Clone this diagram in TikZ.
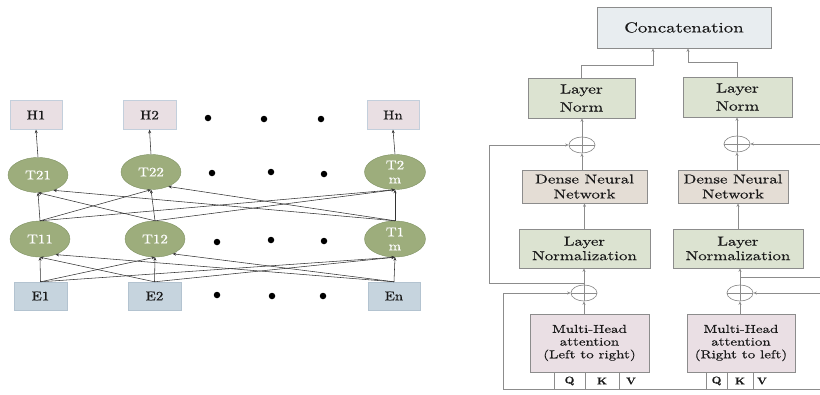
\documentclass[tikz,border=0pt]{standalone}
\usepackage{fontspec}
\newfontfamily\lmv{lmroman10-regular}[Extension=.otf,BoldFont=lmroman10-bold,FakeStretch=1.15,FakeBold=0.4]
\newfontfamily\lmw{lmroman10-regular}[Extension=.otf,BoldFont=lmroman10-bold,FakeStretch=1.3,FakeBold=0.4]
\usetikzlibrary{arrows.meta,shapes.geometric,calc}
\definecolor{hpink}{HTML}{E9DFE3}
\definecolor{hedge}{HTML}{C3CFDC}
\definecolor{eblue}{HTML}{C6D4DE}
\definecolor{eedge}{HTML}{B3C3D0}
\definecolor{tgreen}{HTML}{9DAD7C}
\definecolor{tedge}{HTML}{7F9263}
\definecolor{lngreen}{HTML}{DCE3D1}
\definecolor{dbeige}{HTML}{E4DDD5}
\definecolor{mpink}{HTML}{EADFE4}
\definecolor{cgray}{HTML}{E8EDF0}
\definecolor{rgray}{HTML}{8C8C8C}
\begin{document}
\begin{tikzpicture}[x=1pt,y=-1pt,
  lfont/.style={font=\lmv\fontsize{13}{15}\selectfont},
  larr/.style={draw=black!80,line width=0.55pt,-{Stealth[length=3.5pt,width=3pt]}},
  rarr/.style={draw=rgray,line width=0.65pt,-{Stealth[length=3.5pt,width=3pt]}},
  rline/.style={draw=rgray,line width=0.65pt},
  hbox/.style={draw=hedge,fill=hpink,minimum width=52pt,minimum height=29pt,inner sep=0pt,lfont,text=black!90},
  ebox/.style={draw=eedge,fill=eblue,minimum width=53pt,minimum height=28pt,inner sep=0pt,lfont,text=black!90},
  tell/.style={ellipse,draw=tedge,fill=tgreen,minimum width=60pt,minimum height=35pt,inner sep=0pt,text=white,align=center,lfont},
  bdot/.style={circle,fill=black,minimum size=6.5pt,inner sep=0pt},
  rbox/.style={draw=rgray,line width=0.65pt,inner sep=0pt,align=center,text=black!90},
  oplus/.style={ellipse,draw=rgray,line width=0.65pt,minimum width=26pt,minimum height=16pt,inner sep=0pt}
]
\useasboundingbox (0,0) rectangle (820,394);

% ---------------- left diagram ----------------
\node[hbox] (H1) at (36,115) {H1};
\node[hbox,minimum width=53pt] (H2) at (149.5,115) {H2};
\node[hbox] (Hn) at (393,115) {Hn};

\node[tell] (T21) at (38,175) {T21};
\node[tell] (T22) at (151,172) {T22};
\node[tell,minimum width=61pt,font=\lmv\fontsize{13}{14}\selectfont] (T2m) at (395,172) {T2\\m};

\node[tell,minimum height=36pt] (T11) at (40,239) {T11};
\node[tell,minimum height=36pt] (T12) at (155,239) {T12};
\node[tell,minimum height=36pt,minimum width=61pt,font=\lmv\fontsize{13}{14}\selectfont] (T1m) at (395,239) {T1\\m};

\node[ebox] (E1) at (40.5,296) {E1};
\node[ebox] (E2) at (154.5,296) {E2};
\node[ebox,minimum width=52pt] (En) at (394,296) {En};

\foreach \x/\y [count=\i] in {208/118,264/119,321/119,
                              212/173,271/172,324/174,
                              217/242,271/240,324/241,
                              217/295,272/296,323/296}
  \node[bdot] (d\i) at (\x,\y) {};

% bottom layer connections
\draw[larr] (E1.north) -- (T11.south);
\draw[larr] (E1.north) -- (T12.south);
\draw[larr] (E1.north) -- (T1m.south);
\draw[larr] (E2.north) -- (T11.south);
\draw[larr] (E2.north) -- (T12.south);
\draw[larr] (E2.north) -- (T1m.south);
\draw[larr] (En.north) -- (T11.-45);
\draw[larr] (En.north) -- (T12.-40);
\draw[larr] (En.north) -- (T1m.south);
% top layer connections
\draw[larr] (T11.north) -- (T21.south);
\draw[larr] (T11.north) -- (T22.south);
\draw[larr] (T11.north) -- (T2m.south);
\draw[larr] (T12.north) -- (T21.south);
\draw[larr] (T12.north) -- (T22.south);
\draw[larr] (T12.north) -- (T2m.south);
\draw[larr] (T1m.north) -- (T21.-45);
\draw[larr] (T1m.north) -- (T22.-40);
\draw[larr] (T1m.north) -- (T2m.south);
% outputs
\draw[larr] (T21.north) -- (H1.south);
\draw[larr] (T22.north) -- (H2.south);
\draw[larr] (T2m.north) -- (Hn.south);

% ---------------- right diagram ----------------
\node[rbox,fill=cgray,minimum width=174pt,minimum height=41pt,font=\lmw\fontsize{14.5}{16}\selectfont] (concat) at (684,27.5) {Concatenation};

\node[rbox,fill=lngreen,minimum width=107pt,minimum height=40pt,font=\lmw\fontsize{13.5}{18}\selectfont] (lnA) at (581.5,98) {Layer\\Norm};
\node[rbox,fill=lngreen,minimum width=109pt,minimum height=40pt,font=\lmw\fontsize{13.5}{18}\selectfont] (lnB) at (737.5,97) {Layer\\Norm};

\node[oplus] (cA) at (582,145) {};
\node[oplus] (cB) at (737,144) {};

\node[rbox,fill=dbeige,minimum width=125pt,minimum height=33pt,font=\lmw\fontsize{13}{15}\selectfont] (dA) at (584.5,186.5) {Dense Neural\\Network};
\node[rbox,fill=dbeige,minimum width=110pt,minimum height=33pt,font=\lmw\fontsize{13}{15}\selectfont] (dB) at (733,186.5) {Dense Neural\\Network};

\node[rbox,fill=lngreen,minimum width=131pt,minimum height=39pt,font=\lmw\fontsize{13}{14.5}\selectfont] (nA) at (584.5,248.5) {Layer\\Normalization};
\node[rbox,fill=lngreen,minimum width=130pt,minimum height=39pt,font=\lmw\fontsize{13}{14.5}\selectfont] (nB) at (738,248.5) {Layer\\Normalization};

\node[oplus] (pA) at (584,293) {};
\node[oplus] (pB) at (740,293) {};

\node[rbox,fill=mpink,minimum width=119pt,minimum height=58pt,font=\lmw\fontsize{11.5}{12.7}\selectfont] (mA) at (589.5,343) {Multi-Head\\attention\\(Left to right)};
\node[rbox,fill=mpink,minimum width=108pt,minimum height=58pt,font=\lmw\fontsize{11.5}{12.7}\selectfont] (mB) at (741,343) {Multi-Head\\attention\\(Right to left)};

% Q K V cells
\foreach \x/\n in {554/qa1,585/qa2,619/qa3,706/qb1,727/qb2,753/qb3}
  \coordinate (\n) at (\x,372);
\foreach \n in {qa1,qa2,qa3,qb1,qb2,qb3}
  \draw[rline] (\n) -- ++(0,17);
\foreach \x/\t/\n in {569.5/Q/lqa,602/K/lka,631/V/lva,716.5/Q/lqb,740/K/lkb,762/V/lvb}
  \node[font=\lmv\bfseries\fontsize{10}{11}\selectfont,text=black!90,inner sep=0pt] (\n) at (\x,381) {\t};

% bottom input line
\coordinate (bA) at (503,389);
\coordinate (bE) at (820,389);
\draw[rline] (bA) -- (bE);

% oplus bars
\foreach \c in {cA,cB,pA,pB}
  \draw[rline] (\c.west) -- (\c.east);

% main flow left
\draw[rarr] (pA.south |- mA.north) -- (pA.south);
\draw[rarr] (pA.south) -- (pA.south |- nA.south);
\draw[rarr] (nA.north) -- (dA.south);
\draw[rarr] (cA.south |- dA.north) -- (cA.south);
\draw[rarr] (cA.south) -- (cA.south |- lnA.south);
\draw[rarr] (lnA.north) -- ++(0,-12) -| ([xshift=-31pt]concat.south);

% main flow right
\draw[rarr] (pB.south |- mB.north) -- (pB.south);
\draw[rarr] (pB.south) -- (pB.south |- nB.south);
\draw[rarr] (nB.north) -- (nB.north |- dB.south);
\draw[rarr] (cB.south |- dB.north) -- (cB.south);
\draw[rarr] (cB.south) -- (cB.south |- lnB.south);
\draw[rarr] (lnB.north) -- ++(0,-14) -| ([xshift=4pt]concat.south);

% residual connections left
\coordinate (jA) at (584,283);
\draw[rarr] (jA) -- ++(-95,0) |- (cA.west);
\draw[rarr] (bA) |- (pA.west);

% residual connections right
\coordinate (jB) at (740,277);
\coordinate (rB1) at (820,277);
\coordinate (rB2) at (820,293);
\coordinate (rB3) at (820,144);
\draw[rline] (jB) -- (rB1);
\draw[rarr] (rB2) -- (pB.east);
\draw[rarr] (rB3) -- (cB.east);
\end{tikzpicture}
\end{document}
